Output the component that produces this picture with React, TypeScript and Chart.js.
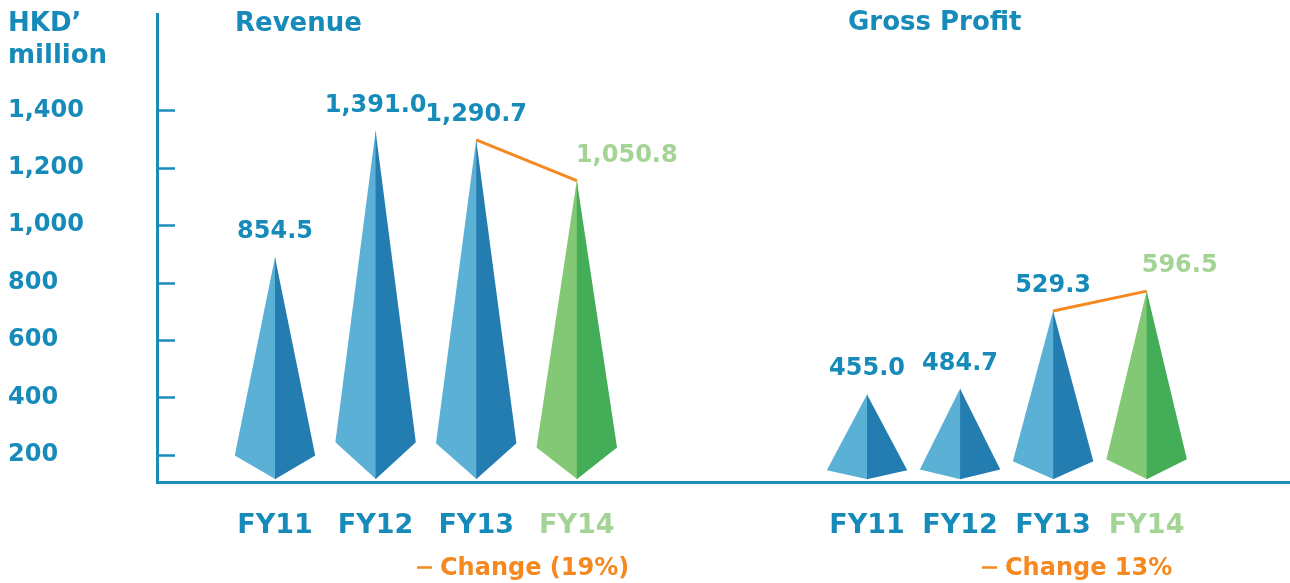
import React, { useEffect, useRef } from "react";
import { Chart, registerables } from "chart.js";

Chart.register(...registerables);

// ---- data ----
const categories = ["FY11", "FY12", "FY13", "FY14"];
const revenueValues = [854.5, 1391.0, 1290.7, 1050.8];
const profitValues = [455.0, 484.7, 529.3, 596.5];
// apex heights of the pyramids as drawn in the reference (read against the y axis)
const revenueHeights = [888, 1328, 1297, 1155];
const profitHeights = [410, 430, 701, 770];
// category positions on the x axis (one unit = one category step of the revenue group)
const revenueSlots = [1, 2, 3, 4];
const profitSlots = [6.885, 7.81, 8.735, 9.665];
const yTicks = [200, 400, 600, 800, 1000, 1200, 1400];
const groupTitles = ["Revenue", "Gross Profit"];
const changeLabels = ["Change (19%)", "Change 13%"];
const unitLabel = ["HKD\u2019", "million"];
const pyramidBase = 115;

// ---- styles ----
const FONT = '"DejaVu Sans", Verdana, sans-serif';
const BLUE_TEXT = "#168bb9";
const GREEN_TEXT = "#a3d495";
const AXIS = "#1b8bba";
const ORANGE = "#f5891f";
const BLUE_FACES = ["#5bb1d5", "#247db0"];
const GREEN_FACES = ["#83c874", "#44ad57"];

const fmt1 = (v: number) =>
  v.toLocaleString("en-US", { minimumFractionDigits: 1, maximumFractionDigits: 1 });

const pyramidPlugin = {
  id: "pyramids",
  beforeDatasetsDraw(chart: any) {
    const { ctx, scales } = chart;
    const x = scales.x;
    const y = scales.y;
    const unit = x.getPixelForValue(1) - x.getPixelForValue(0);
    const halfW = 0.4 * unit;
    const frontY = y.getPixelForValue(pyramidBase);
    [0, 1].forEach((di) => {
      const meta = chart.getDatasetMeta(di);
      meta.data.forEach((pt: any, i: number) => {
        const cx = pt.x;
        const ay = pt.y;
        const depth = 0.106 * (frontY - ay);
        const [light, dark] = i === 3 ? GREEN_FACES : BLUE_FACES;
        ctx.save();
        ctx.fillStyle = light;
        ctx.beginPath();
        ctx.moveTo(cx, ay);
        ctx.lineTo(cx - halfW, frontY - depth);
        ctx.lineTo(cx + 0.5, frontY);
        ctx.lineTo(cx + 0.5, ay);
        ctx.closePath();
        ctx.fill();
        ctx.fillStyle = dark;
        ctx.beginPath();
        ctx.moveTo(cx, ay);
        ctx.lineTo(cx, frontY);
        ctx.lineTo(cx + halfW, frontY - depth);
        ctx.closePath();
        ctx.fill();
        ctx.restore();
      });
    });
  },
  afterDraw(chart: any) {
    const { ctx, scales, chartArea } = chart;
    const y = scales.y;
    ctx.save();
    // inward tick marks
    ctx.strokeStyle = AXIS;
    ctx.lineWidth = 2.5;
    yTicks.forEach((v) => {
      const py = Math.round(y.getPixelForValue(v)) + 0.5;
      ctx.beginPath();
      ctx.moveTo(chartArea.left, py);
      ctx.lineTo(chartArea.left + 18, py);
      ctx.stroke();
    });

    // value labels
    const groups = [revenueValues, profitValues];
    const lastShift = [50, 33];
    ctx.font = `bold 24px ${FONT}`;
    ctx.textAlign = "center";
    ctx.textBaseline = "alphabetic";
    groups.forEach((vals, gi) => {
      const meta = chart.getDatasetMeta(gi);
      meta.data.forEach((pt: any, i: number) => {
        ctx.fillStyle = i === 3 ? GREEN_TEXT : BLUE_TEXT;
        const dx = i === 3 ? lastShift[gi] : 0;
        ctx.fillText(fmt1(vals[i]), pt.x + dx, pt.y - 19);
      });
    });

    // titles
    ctx.font = `bold 26px ${FONT}`;
    ctx.textAlign = "left";
    ctx.fillStyle = BLUE_TEXT;
    ctx.fillText(groupTitles[0], 235, 31);
    ctx.fillText(groupTitles[1], 848, 30);
    ctx.fillText(unitLabel[0], 8, 31);
    ctx.fillText(unitLabel[1], 8, 63);

    // change legends
    const legendX = [417, 982];
    ctx.font = `bold 24px ${FONT}`;
    changeLabels.forEach((lab, i) => {
      ctx.strokeStyle = ORANGE;
      ctx.lineWidth = 2.5;
      ctx.beginPath();
      ctx.moveTo(legendX[i], 567.5);
      ctx.lineTo(legendX[i] + 15, 567.5);
      ctx.stroke();
      ctx.fillStyle = ORANGE;
      ctx.fillText(lab, legendX[i] + 23, 575);
    });
    ctx.restore();
  },
};

const allSlots = [...revenueSlots, ...profitSlots];

export default function App() {
  const ref = useRef<HTMLCanvasElement>(null);
  useEffect(() => {
    const chart = new Chart(ref.current as HTMLCanvasElement, {
      type: "scatter",
      data: {
        datasets: [
          {
            label: "Revenue",
            data: revenueSlots.map((s, i) => ({ x: s, y: revenueHeights[i] })),
            pointRadius: 0,
            showLine: false,
          },
          {
            label: "Gross Profit",
            data: profitSlots.map((s, i) => ({ x: s, y: profitHeights[i] })),
            pointRadius: 0,
            showLine: false,
          },
          {
            type: "line",
            label: changeLabels[0],
            data: [2, 3].map((i) => ({ x: revenueSlots[i], y: revenueHeights[i] })),
            borderColor: ORANGE,
            borderWidth: 3,
            pointRadius: 0,
            fill: false,
          },
          {
            type: "line",
            label: changeLabels[1],
            data: [2, 3].map((i) => ({ x: profitSlots[i], y: profitHeights[i] })),
            borderColor: ORANGE,
            borderWidth: 3,
            pointRadius: 0,
            fill: false,
          },
        ] as any,
      },
      options: {
        animation: false,
        responsive: true,
        maintainAspectRatio: false,
        layout: { padding: { left: 8, top: 12, right: 0, bottom: 0 } },
        plugins: { legend: { display: false }, tooltip: { enabled: false } },
        scales: {
          x: {
            type: "linear",
            min: -0.173,
            max: 11.09,
            afterBuildTicks: (scale: any) => {
              scale.ticks = allSlots.map((v) => ({ value: v }));
            },
            afterFit: (scale: any) => {
              scale.height = 101;
            },
            grid: { drawOnChartArea: false, drawTicks: false },
            border: { display: true, color: AXIS, width: 3 },
            ticks: {
              autoSkip: false,
              maxRotation: 0,
              padding: 28,
              font: { family: FONT, size: 27, weight: "bold" },
              color: (c: any) => (c.index % 4 === 3 ? GREEN_TEXT : BLUE_TEXT),
              callback: (_v: any, i: number) => categories[i % 4],
            },
          },
          y: {
            type: "linear",
            min: 105,
            max: 1734,
            afterBuildTicks: (scale: any) => {
              scale.ticks = yTicks.map((v) => ({ value: v }));
            },
            afterFit: (scale: any) => {
              scale.width = 149;
            },
            grid: { drawOnChartArea: false, drawTicks: false },
            border: { display: true, color: AXIS, width: 3 },
            ticks: {
              crossAlign: "far",
              padding: 0,
              font: { family: FONT, size: 24, weight: "bold" },
              color: BLUE_TEXT,
              callback: (v: any) => Number(v).toLocaleString("en-US"),
            },
          },
        },
      } as any,
      plugins: [pyramidPlugin],
    });
    return () => chart.destroy();
  }, []);
  return (
    <div
      style={{
        position: "fixed",
        left: 0,
        top: 0,
        width: 1290,
        height: 583,
        background: "#ffffff",
      }}
    >
      <canvas ref={ref} />
    </div>
  );
}
